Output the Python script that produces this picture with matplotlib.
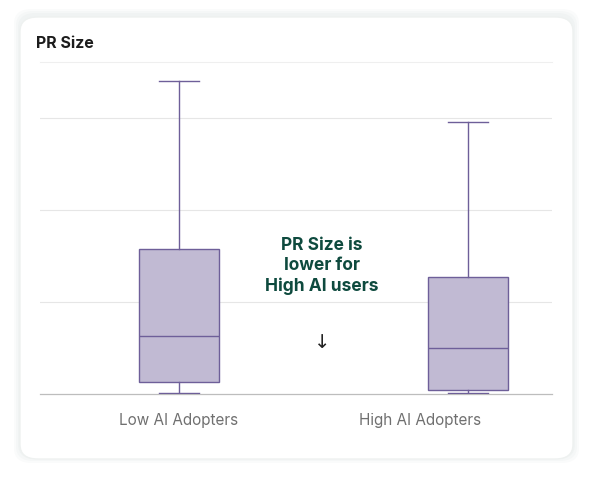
import matplotlib.pyplot as plt
from matplotlib.patches import FancyBboxPatch

# Data (arbitrary units)
groups = ['Low AI Adopters', 'High AI Adopters']
whislo = [0.01, 0.01]
q1 = [0.13, 0.04]
med = [0.63, 0.50]
q3 = [1.58, 1.27]
whishi = [3.40, 2.96]

W, H = 593, 482
fig = plt.figure(figsize=(W / 100, H / 100), dpi=100, facecolor='white')

# card with soft shadow
for i, a in enumerate([0.03, 0.03, 0.03]):
    s = 2 + i * 2
    fig.patches.append(FancyBboxPatch(((20 - s) / W, (H - 459 - s + 2) / H), (553 + 2 * s) / W, (442 + 2 * s) / H,
                                      boxstyle='round,pad=0,rounding_size=0.03', transform=fig.transFigure,
                                      facecolor='#6a8a80', alpha=a, edgecolor='none', zorder=0))
fig.patches.append(FancyBboxPatch((20 / W, (H - 459) / H), 553 / W, 442 / H,
                                  boxstyle='round,pad=0,rounding_size=0.03', transform=fig.transFigure,
                                  facecolor='white', edgecolor='#eef1f0', lw=1, zorder=1))

fig.text(36 / W, 1 - 43 / H, 'PR Size', fontsize=11.5, fontweight='bold', color='#1c1c1c', va='center',
         family='Inter')

ax = fig.add_axes([40 / W, 1 - 394 / H, 512 / W, (394 - 62) / H])
ax.set_facecolor('none')
ax.set_zorder(2)
stats = [dict(whislo=whislo[i], q1=q1[i], med=med[i], q3=q3[i], whishi=whishi[i], label=groups[i])
         for i in range(len(groups))]
ax.bxp(stats, positions=[0, 1], widths=0.275, showfliers=False, patch_artist=True,
       boxprops=dict(facecolor='#c1bad3', edgecolor='#6e5f99', lw=1),
       medianprops=dict(color='#6e5f99', lw=1),
       whiskerprops=dict(color='#6e5f99', lw=1),
       capprops=dict(color='#6e5f99', lw=1), capwidths=0.14)
ax.set_xlim(-0.48, 1.29)
ax.set_ylim(0, (394 - 62) / 92)
# category labels sit where the reference puts them
ax.set_xticks([0, 0.835])
ax.set_xticklabels(groups)
ax.set_yticks([1, 2, 3])
ax.set_yticklabels([])
ax.tick_params(axis='y', length=0)
ax.tick_params(axis='x', length=0, pad=14, labelsize=11, labelcolor='#707070')
ax.grid(axis='y', color='#e6e6e6', lw=0.8)
ax.set_axisbelow(True)
for k in ['left', 'right', 'bottom']:
    ax.spines[k].set_visible(False)
ax.spines['top'].set_color('#efefef')
ax.axhline(0, color='#bdbdbd', lw=0.9, zorder=1, clip_on=False)
for lbl in ax.get_xticklabels():
    lbl.set_family('Inter')

fig.text(322 / W, 1 - 266 / H, 'PR Size is\nlower for\nHigh AI users', ha='center', va='center',
         fontsize=12.5, fontweight='bold', color='#0e4a3e', linespacing=1.25, family='Inter')
fig.text(322 / W, 1 - 342 / H, '↓', ha='center', va='center', fontsize=14, color='#222222',
         family='DejaVu Sans')

fig.savefig('out.png', dpi=100)
